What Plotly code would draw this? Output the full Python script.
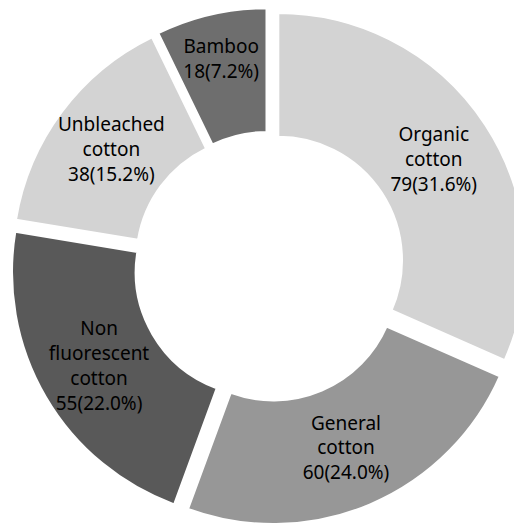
import plotly.graph_objects as go

categories = ["Organic<br>cotton", "General<br>cotton", "Non<br>fluorescent<br>cotton", "Unbleached<br>cotton", "Bamboo"]
values = [79, 60, 55, 38, 18]
percents = ["31.6%", "24.0%", "22.0%", "15.2%", "7.2%"]
colors = ["#d3d3d3", "#979797", "#595959", "#d3d3d3", "#6e6e6e"]

texts = [f"{c}<br>{v}({p})" for c, v, p in zip(categories, values, percents)]

fig = go.Figure(go.Pie(
    labels=categories,
    values=values,
    text=texts,
    textinfo="text",
    hole=0.5,
    sort=False,
    direction="clockwise",
    rotation=0,
    pull=[0.045] * 5,
    marker=dict(colors=colors, line=dict(color="white", width=2)),
    textposition="inside",
    insidetextorientation="horizontal",
    textfont=dict(family="Noto Sans", size=19, color="black"),
    showlegend=False,
))
fig.update_layout(
    width=522, height=525,
    margin=dict(l=0, r=0, t=0, b=8),
    paper_bgcolor="white",
    uniformtext=dict(minsize=19, mode="show"),
)
fig.write_html("out.html")
